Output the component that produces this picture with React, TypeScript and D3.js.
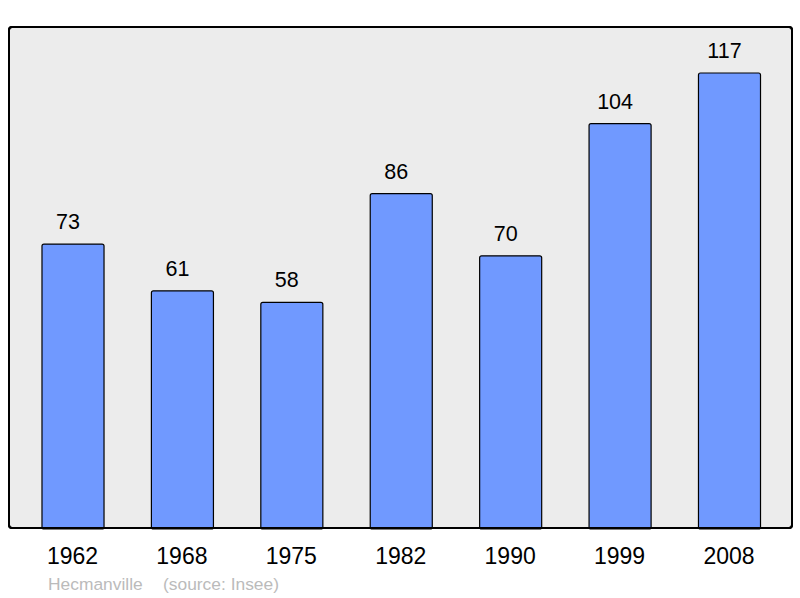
import React from "react";
import * as d3 from "d3";

const years = ["1962", "1968", "1975", "1982", "1990", "1999", "2008"];
const population = [73, 61, 58, 86, 70, 104, 117];
const townName = "Hecmanville";
const sourceLabel = "(source: Insee)";

export default function App() {
  const W = 800, H = 598;
  const frame = { x: 9, y: 27, w: 783, h: 501 };
  const baseY = 528;
  const x = d3.scaleBand<string>().domain(years).range([18.3, 784.2]).paddingInner(0.433).paddingOuter(0.2165);
  const y = d3.scaleLinear().domain([0, 117]).range([baseY, 73]);
  const font = "'Liberation Sans', Arial, sans-serif";
  return (
    <svg width={W} height={H} style={{ position: "absolute", left: 0, top: 0 }}>
      <rect x={frame.x} y={frame.y} width={frame.w} height={frame.h} rx={3} fill="#ececec" stroke="#000" strokeWidth={2} />
      {years.map((yr, i) => {
        const v = population[i];
        const bx = x(yr)!;
        const bw = x.bandwidth();
        return (
          <g key={yr}>
            <rect x={bx} y={y(v)} width={bw} height={baseY - y(v) + 1} rx={2} fill="#7099ff" stroke="#000" strokeWidth={1.2} />
            <text x={bx + bw / 2 - 5} y={y(v) - 15} textAnchor="middle" fontFamily={font} fontSize={21.5} fill="#000">{v}</text>
            <text x={bx + bw / 2 - 0.5} y={564} textAnchor="middle" fontFamily={font} fontSize={23} fill="#000">{yr}</text>
          </g>
        );
      })}
      <rect x={frame.x} y={frame.y} width={frame.w} height={frame.h} rx={3} fill="none" stroke="#000" strokeWidth={2} />
      <text x={48} y={590} fontFamily={font} fontSize={17.4} fill="#bbbbbb">{townName}</text>
      <text x={163} y={590} fontFamily={font} fontSize={17.4} fill="#bbbbbb">{sourceLabel}</text>
    </svg>
  );
}
